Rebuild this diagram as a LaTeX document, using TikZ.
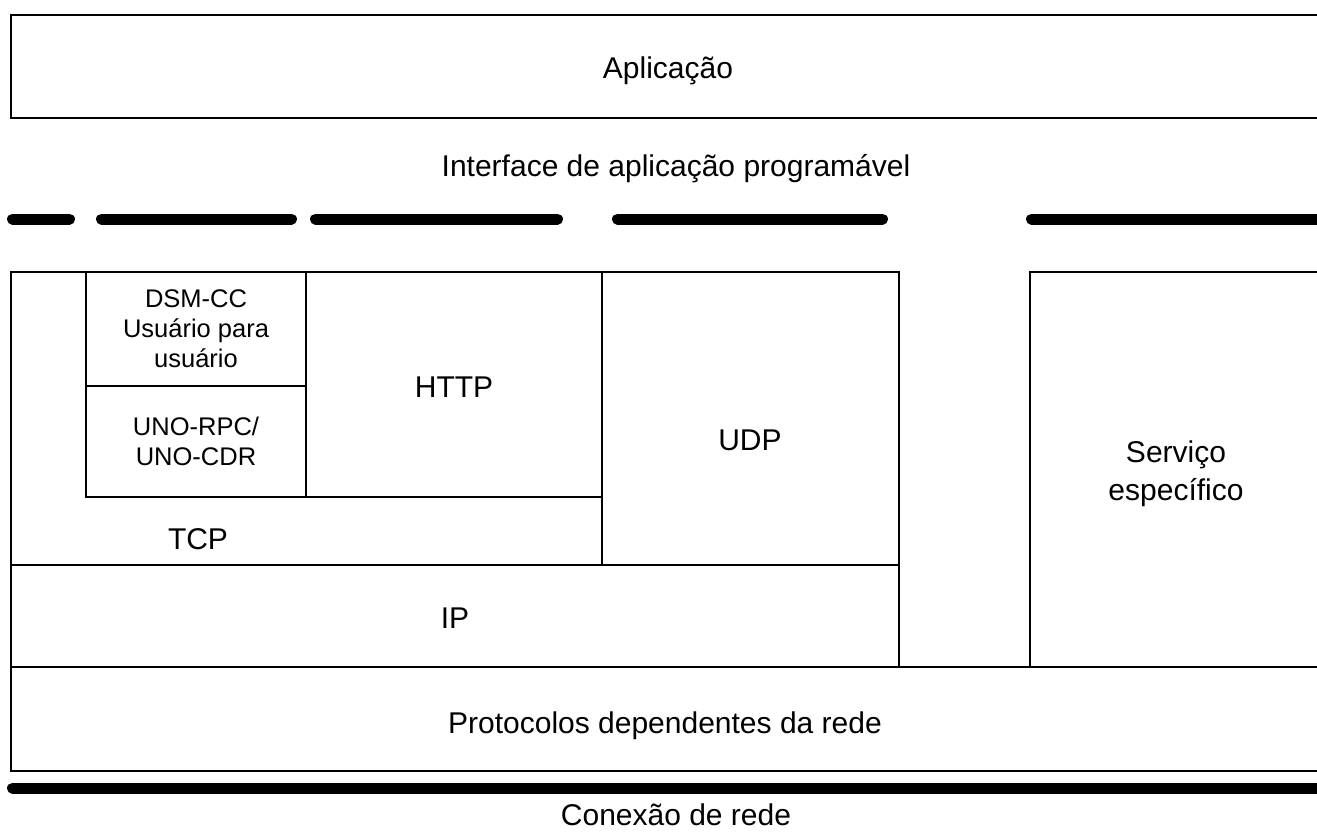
\documentclass[tikz,border=0pt]{standalone}
\usepackage{fontspec}
\setmainfont{Liberation Sans}
\begin{document}
\begin{tikzpicture}[x=1pt,y=-1pt,
  box/.style={draw=black,line width=1.6pt},
  big/.style={font=\fontsize{30}{34}\selectfont,inner sep=0pt,anchor=base},
  small/.style={font=\fontsize{25.5}{30}\selectfont,inner sep=0pt,align=center},
  bar/.style={line width=11pt,line cap=round}]
\useasboundingbox (0,0) rectangle (1317,832);
\clip (0,0) rectangle (1317,832);
% boxes
\draw[box] (11,15) rectangle (1340,118);
\draw[box] (11,272) rectangle (899,565);
\draw[box] (11,565) rectangle (899,667);
\draw[box] (86,272) rectangle (306,386);
\draw[box] (86,386) rectangle (306,497);
\draw[box] (306,272) rectangle (602,497);
\draw[box] (86,497) -- (602,497);
\draw[box] (602,272) rectangle (899,565);
\draw[box] (1030,272) rectangle (1340,667);
\draw[box] (11,667) rectangle (1340,771);
% dashed API line
\draw[bar] (12.5,219) -- (69.5,219);
\draw[bar] (101.5,219) -- (291.5,219);
\draw[bar] (315.5,219) -- (557.5,219);
\draw[bar] (617.5,219) -- (882.5,219);
\draw[bar] (1031.5,219) -- (1340,219);
% network connection
\draw[bar] (12.5,788) -- (1340,788);
% texts
\node[big] (app) at (668,79) {Aplicação};
\node[big] (api) at (676,176) {Interface de aplicação programável};
\node[small] (dsm) at (196,329) {DSM-CC\\Usuário para\\usuário};
\node[small] (uno) at (196,441) {UNO-RPC/\\UNO-CDR};
\node[big] (http) at (454,397) {HTTP};
\node[big] (udp) at (750,450) {UDP};
\node[big] (tcp) at (198,549) {TCP};
\node[big] (ip) at (455,628) {IP};
\node[font=\fontsize{30}{38}\selectfont,inner sep=0pt,align=center] (svc) at (1176,474) {Serviço\\específico};
\node[big] (net) at (665,733) {Protocolos dependentes da rede};
\node[big] (con) at (676,825) {Conexão de rede};
\end{tikzpicture}
\end{document}
